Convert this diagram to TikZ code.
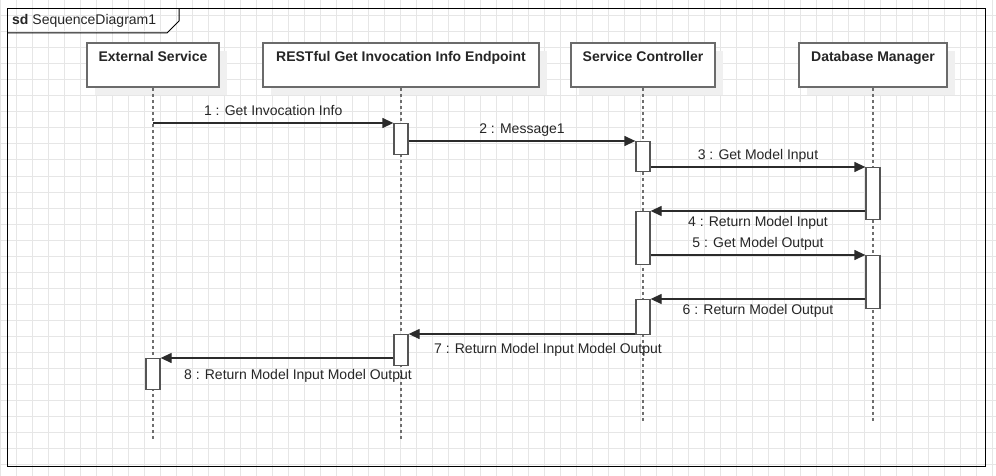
\documentclass[tikz,border=0pt]{standalone}
\usepackage{fontspec}
\setmainfont{Liberation Sans}
\usetikzlibrary{arrows.meta, positioning, calc, shadows}

\definecolor{gridgray}{HTML}{E6E6E6}
\definecolor{boxgray}{HTML}{6B6B6B}
\definecolor{bargray}{HTML}{555555}
\definecolor{linegray}{HTML}{6E6E6E}
\definecolor{msgdark}{HTML}{2B2B2B}

\begin{document}
\begin{tikzpicture}[
    x=1pt, y=-1pt,
    >={Triangle[length=11pt, width=10pt]},
    every node/.style={font=\fontsize{14}{17}\selectfont, text=black!85},
    grid line/.style={gridgray, line width=1pt},
    frame line/.style={black, line width=1pt},
    lifeline head/.style={draw=boxgray, line width=1.8pt, fill=white,
        minimum height=44pt, inner sep=0pt,
        general shadow={fill=black!6, shadow xshift=8pt, shadow yshift=-8pt}},
    head text/.style={anchor=north, yshift=-9pt, inner sep=0pt,
        text height=10pt, text depth=3pt, font=\fontsize{14}{17}\selectfont\bfseries},
    life line/.style={linegray, line width=1.3pt, dash pattern=on 3pt off 3pt},
    activation/.style={draw=bargray, line width=1.3pt, fill=white,
        minimum width=14pt, inner sep=0pt, anchor=north},
    message/.style={->, msgdark, line width=1.3pt},
    msg label/.style={inner sep=1pt, text height=10pt, text depth=3pt}
]

    % === Canvas and grid ===
    \useasboundingbox (0,0) rectangle (996,476);
    \fill[white] (0,0) rectangle (996,476);
    \foreach \gx in {0,16,...,992}
        \draw[grid line] (\gx,0) -- (\gx,476);
    \foreach \gy in {0,16,...,464}
        \draw[grid line] (0,\gy) -- (996,\gy);

    % === Frame ===
    \draw[frame line] (7,9) rectangle (985,466);
    \draw[frame line] (7,33) -- (167,33) -- (179,21) -- (179,9);
    \node[anchor=west, inner sep=0pt] (frame_title) at (12,21) {\textbf{sd} SequenceDiagram1};

    % === Lifeline heads ===
    \node[lifeline head, minimum width=132pt,
        label={[head text]north:External Service}] (ext_head) at (153,65) {};
    \node[lifeline head, minimum width=276pt,
        label={[head text]north:RESTful Get Invocation Info Endpoint}] (rest_head) at (401,65) {};
    \node[lifeline head, minimum width=144pt,
        label={[head text]north:Service Controller}] (sc_head) at (643,65) {};
    \node[lifeline head, minimum width=148pt,
        label={[head text]north:Database Manager}] (db_head) at (873,65) {};

    % === Lifelines ===
    \coordinate (ext_end) at (153,440);
    \coordinate (rest_end) at (401,440);
    \coordinate (sc_end) at (643,421);
    \coordinate (db_end) at (873,421);
    \draw[life line] (ext_head.south) -- (ext_end);
    \draw[life line] (rest_head.south) -- (rest_end);
    \draw[life line] (sc_head.south) -- (sc_end);
    \draw[life line] (db_head.south) -- (db_end);

    % === Activation bars ===
    \node[activation, minimum height=31pt] (rest_act1) at (401,123) {};
    \node[activation, minimum height=30pt] (sc_act1) at (643,141) {};
    \node[activation, minimum height=52pt] (db_act1) at (873,167) {};
    \node[activation, minimum height=53pt] (sc_act2) at (643,211) {};
    \node[activation, minimum height=53pt] (db_act2) at (873,255) {};
    \node[activation, minimum height=35pt] (sc_act3) at (643,299) {};
    \node[activation, minimum height=31pt] (rest_act2) at (401,334) {};
    \node[activation, minimum height=31pt] (ext_act1) at (153,358) {};

    % === Messages ===
    \draw[message] (ext_head.south |- rest_act1.north) -- (rest_act1.north west)
        node[msg label, midway, above=3pt] {1 : Get Invocation Info};
    \draw[message] (rest_act1.east |- sc_act1.north) -- (sc_act1.north west)
        node[msg label, midway, above=3pt] {2 : Message1};
    \draw[message] (sc_act1.east |- db_act1.north) -- (db_act1.north west)
        node[msg label, midway, above=3pt] {3 : Get Model Input};
    \draw[message] (db_act1.west |- sc_act2.north) -- (sc_act2.north east)
        node[msg label, midway, below=4pt] {4 : Return Model Input};
    \draw[message] (sc_act2.east |- db_act2.north) -- (db_act2.north west)
        node[msg label, midway, above=3pt] {5 : Get Model Output};
    \draw[message] (db_act2.west |- sc_act3.north) -- (sc_act3.north east)
        node[msg label, midway, below=4pt] {6 : Return Model Output};
    \draw[message] (sc_act3.west |- rest_act2.north) -- (rest_act2.north east)
        node[msg label, midway, below=8pt, xshift=26pt] {7 : Return Model Input Model Output};
    \draw[message] (rest_act2.west |- ext_act1.north) -- (ext_act1.north east)
        node[msg label, midway, below=10pt, xshift=21pt] {8 : Return Model Input Model Output};

\end{tikzpicture}
\end{document}
